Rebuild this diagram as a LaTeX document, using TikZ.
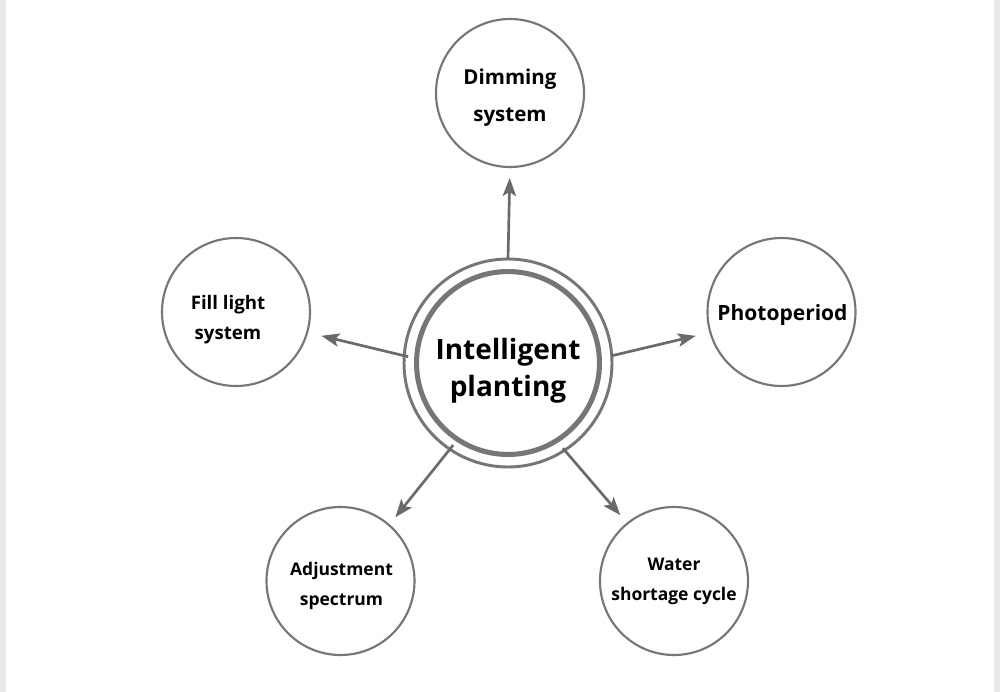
\documentclass[tikz,border=0pt]{standalone}
\usepackage{fontspec}
\setmainfont{Open Sans}
\usetikzlibrary{arrows.meta}
\definecolor{ring}{HTML}{767676}
\definecolor{arr}{HTML}{6A6A6A}
\definecolor{strip}{HTML}{E9E9E9}
\tikzset{
  outer/.style={circle, draw=ring, line width=1.6pt, minimum size=111pt, inner sep=0pt, outer sep=0pt},
  hub/.style={circle, draw=ring, line width=2.2pt, minimum size=156pt, inner sep=0pt, outer sep=0pt},
  lab/.style={anchor=base, align=center, inner sep=0pt, text=black},
  conn/.style={draw=arr, line width=2pt, -{Stealth[length=13.5pt,width=10pt,inset=3pt]}},
}
\begin{document}
\begin{tikzpicture}[x=0.75pt,y=-0.75pt]
\fill[white] (0,0) rectangle (1000,692);
\useasboundingbox (0,0) rectangle (1000,692);
\fill[strip] (0,0) rectangle (6,692);
\fill[strip] (994,0) rectangle (1000,692);

\node[hub] (c) at (508,363) {};
\draw[ring, line width=3.8pt] (c.center) circle[radius=68.6pt];

\node[outer] (dimming) at (510,93) {};
\node[outer] (filllight) at (236,312) {};
\node[outer] (photo) at (781.5,312) {};
\node[outer] (adjust) at (340.5,581) {};
\node[outer] (water) at (674,581) {};

% base anchor of a multi-line node is the baseline of its last line
\node[lab, font=\bfseries\fontsize{21}{27.8}\selectfont] (ct) at (508,396.7) {Intelligent\\planting};
\node[lab, font=\bfseries\fontsize{15.4}{28.3}\selectfont] (dimt) at (510,122) {Dimming\\system};
\node[lab, font=\bfseries\fontsize{14}{22.5}\selectfont] (fillt) at (228,339) {Fill light\\system};
\node[lab, font=\bfseries\fontsize{15.75}{20}\selectfont] (photot) at (782.5,320) {Photoperiod};
\node[lab, font=\bfseries\fontsize{13.1}{22.5}\selectfont] (adjt) at (341.5,605) {Adjustment\\spectrum};
\node[lab, font=\bfseries\fontsize{13.1}{22.5}\selectfont] (watert) at (674,600) {Water\\shortage cycle};

\draw[conn, shorten >=8.25pt] (c.90) -- (dimming.-90);
\draw[conn, shorten >=11pt, shorten <=-3pt] (c.176) -- (filllight.-16.4);
\draw[conn, shorten >=11.25pt] (c.4) -- (photo.196.3);
\draw[conn, shorten >=7.5pt, shorten <=-4pt] (c.236.7) -- (adjust.49.8);
\draw[conn, shorten >=8.25pt, shorten <=-2pt] (c.-57.5) -- (water.129.3);
\end{tikzpicture}
\end{document}
